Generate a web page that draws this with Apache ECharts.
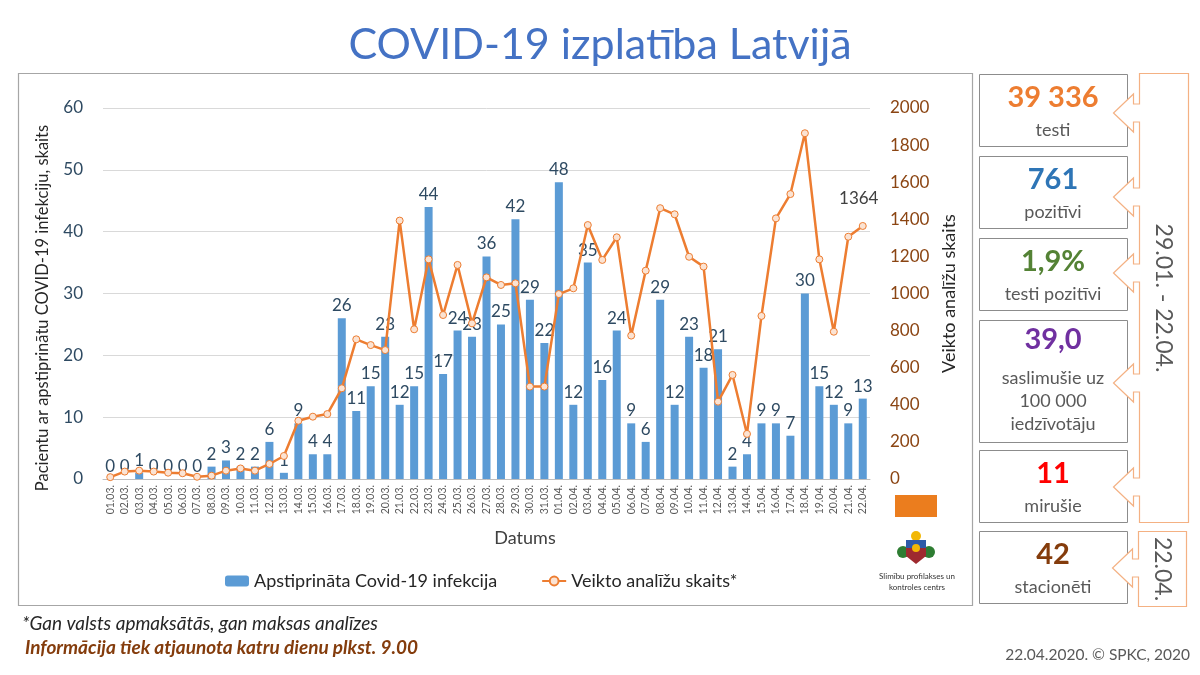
<!DOCTYPE html>
<html>
<head>
<meta charset="utf-8">
<title>COVID-19 izplatība Latvijā</title>
<script src="https://cdn.jsdelivr.net/npm/echarts@6/dist/echarts.min.js"></script>
<style>
  html, body { margin: 0; padding: 0; background: #fff; }
  #chart { width: 1200px; height: 675px; }
</style>
</head>
<body>
<div id="chart"></div>
<script>
// dienas 01.03. - 22.04.
var dates = ['01.03.','02.03.','03.03.','04.03.','05.03.','06.03.','07.03.','08.03.','09.03.','10.03.',
    '11.03.','12.03.','13.03.','14.03.','15.03.','16.03.','17.03.','18.03.','19.03.','20.03.',
    '21.03.','22.03.','23.03.','24.03.','25.03.','26.03.','27.03.','28.03.','29.03.','30.03.','31.03.',
    '01.04.','02.04.','03.04.','04.04.','05.04.','06.04.','07.04.','08.04.','09.04.','10.04.',
    '11.04.','12.04.','13.04.','14.04.','15.04.','16.04.','17.04.','18.04.','19.04.','20.04.',
    '21.04.','22.04.'];

// apstiprinātie gadījumi
var cases = [0,0,1,0,0,0,0,2,3,2,
    2,6,1,9,4,4,26,11,15,23,
    12,15,44,17,24,23,36,25,42,29,22,
    48,12,35,16,24,9,6,29,12,23,
    18,21,2,4,9,9,7,30,15,12,
    9,13];

// veikto analīžu skaits (nolasīts no līknes)
var tests = [10,40,45,40,34,31,12,18,45,57,
    45,81,124,314,336,350,489,753,722,695,
    1393,807,1184,884,1154,839,1087,1046,1055,498,498,
    997,1028,1369,1181,1303,773,1123,1460,1427,1198,
    1145,417,561,243,879,1405,1536,1864,1184,794,
    1306,1364];

var leftTicks = [0, 60, 10];
var rightTicks = [0, 2000, 200];

// kopsavilkuma kartītes
var cardValues = ['39 336', '761', '1,9%', '39,0', '11', '42'];
var cardLabels = [['testi'], ['pozitīvi'], ['testi pozitīvi'], ['saslimušie uz', '100 000', 'iedzīvotāju'], ['mirušie'], ['stacionēti']];
var cardColors = ['#ED7D31', '#2E75B6', '#548235', '#7030A0', '#FF0000', '#843C0C'];
var cardTops = [74, 156, 238, 320, 450, 531];
var cardBottoms = [146, 228, 310, 442, 522, 603];

var FONT = 'Lato, "Open Sans", sans-serif';

var CHART = {
    init: function(){
        var _this = this;
        var myChart = echarts.init(document.getElementById('chart'));
        myChart.setOption(_this.build_option());
    },
    card_graphics: function(){
        var items = [];
        for (var i = 0; i < cardValues.length; i++){
            var top = cardTops[i], bottom = cardBottoms[i];
            var h = bottom - top;
            var lines = cardLabels[i];
            items.push({
                type: 'rect', shape: { x: 979.5, y: top + 0.5, width: 148, height: h },
                style: { fill: '#fff', stroke: '#8C8C8C', lineWidth: 1 }
            });
            var valueY = lines.length > 1 ? top + 20 : top + 24;
            items.push({
                type: 'text', x: 1053, y: valueY,
                style: { text: cardValues[i], font: 'bold 29px ' + FONT, fill: cardColors[i], align: 'center', verticalAlign: 'middle' }
            });
            for (var j = 0; j < lines.length; j++){
                items.push({
                    type: 'text', x: 1053, y: (lines.length > 1 ? top + 58 + j * 23 : top + 56),
                    style: { text: lines[j], font: '18px ' + FONT, fill: '#595959', align: 'center', verticalAlign: 'middle' }
                });
            }
        }
        return items;
    },
    bracket_points: function(x0, x1, y0, y1, arrows){
        // taisnstūris ar bultām pa kreisi
        var pts = [[x1, y0], [x0, y0]];
        for (var i = 0; i < arrows.length; i++){
            var c = arrows[i];
            pts.push([x0, c - 9], [x0 - 6, c - 9], [x0 - 6, c - 19], [x0 - 26, c],
                [x0 - 6, c + 19], [x0 - 6, c + 9], [x0, c + 9]);
        }
        pts.push([x0, y1], [x1, y1]);
        return pts;
    },
    logo_graphics: function(){
        return [
            { type: 'rect', shape: { x: 895, y: 495, width: 42, height: 22 }, style: { fill: '#EB7D1E' } },
            // ģerbonis (vienkāršots)
            { type: 'circle', shape: { cx: 916, cy: 536, r: 5 }, style: { fill: '#F2B705' } },
            { type: 'circle', shape: { cx: 903, cy: 552, r: 6 }, style: { fill: '#2E7D32' } },
            { type: 'circle', shape: { cx: 929, cy: 552, r: 6 }, style: { fill: '#2E7D32' } },
            { type: 'polygon', shape: { points: [[906, 540], [926, 540], [926, 556], [916, 564], [906, 556]] }, style: { fill: '#9E2A2F' } },
            { type: 'rect', shape: { x: 906, y: 540, width: 20, height: 8 }, style: { fill: '#2E5AA8' } },
            { type: 'circle', shape: { cx: 916, cy: 548, r: 4 }, style: { fill: '#F2B705' } },
            { type: 'text', x: 917, y: 576, style: { text: 'Slimību profilakses un', font: '8px ' + FONT, fill: '#333', align: 'center', verticalAlign: 'middle' } },
            { type: 'text', x: 917, y: 587, style: { text: 'kontroles centrs', font: '8px ' + FONT, fill: '#333', align: 'center', verticalAlign: 'middle' } }
        ];
    },
    build_option: function(){
        var _this = this;
        var lastIdx = tests.length - 1;
        var testData = [];
        $each(tests, function(i, v){
            if (i == lastIdx){
                testData.push({ value: v, label: { show: true, position: 'top', offset: [-4, -10], formatter: '{c}', fontSize: 17, color: '#404040', fontFamily: FONT } });
            } else {
                testData.push(v);
            }
        });

        var graphics = [
            { type: 'rect', shape: { x: 18.5, y: 73.5, width: 954, height: 532 }, style: { fill: 'none', stroke: '#A6A6A6', lineWidth: 1.2 }, z: -1 },
            { type: 'text', x: 600, y: 45, style: { text: 'COVID-19 izplatība Latvijā', font: '43px ' + FONT, fill: '#4472C4', align: 'center', verticalAlign: 'middle' } },
            { type: 'text', x: 43, y: 308, rotation: Math.PI / 2, style: { text: 'Pacientu ar apstiprinātu COVID-19 infekciju, skaits', font: '16.5px ' + FONT, fill: '#262626', align: 'center', verticalAlign: 'middle' } },
            { type: 'text', x: 525, y: 538, style: { text: 'Datums', font: '18px ' + FONT, fill: '#404040', align: 'center', verticalAlign: 'middle' } },
            { type: 'text', x: 22, y: 624, style: { text: '*Gan valsts apmaksātās, gan maksas analīzes', font: 'italic 19px ' + FONT, fill: '#262626', verticalAlign: 'middle' } },
            { type: 'text', x: 25, y: 648, style: { text: 'Informācija tiek atjaunota katru dienu plkst. 9.00', font: 'italic bold 19px ' + FONT, fill: '#843C0C', verticalAlign: 'middle' } },
            { type: 'text', x: 1190, y: 655, style: { text: '22.04.2020. © SPKC, 2020', font: '15.5px ' + FONT, fill: '#595959', align: 'right', verticalAlign: 'middle' } }
        ].concat(_this.card_graphics(), [
            { type: 'polygon', shape: { points: _this.bracket_points(1139.5, 1188.5, 73.5, 522.5, [113, 197, 273, 383, 487]) }, style: { fill: '#fff', stroke: '#F4B183', lineWidth: 1.2 } },
            { type: 'polygon', shape: { points: _this.bracket_points(1138.5, 1186.5, 531.5, 606.5, [568]) }, style: { fill: '#fff', stroke: '#F4B183', lineWidth: 1.2 } },
            { type: 'text', x: 1163, y: 298, rotation: -Math.PI / 2, style: { text: '29.01. - 22.04.', font: '23px ' + FONT, fill: '#595959', align: 'center', verticalAlign: 'middle' } },
            { type: 'text', x: 1162, y: 569, rotation: -Math.PI / 2, style: { text: '22.04.', font: '23px ' + FONT, fill: '#595959', align: 'center', verticalAlign: 'middle' } }
        ], _this.logo_graphics());

        return {
            animation: false,
            backgroundColor: '#fff',
            textStyle: { fontFamily: FONT },
            grid: { left: 103, right: 330, top: 108, bottom: 196 },
            legend: {
                left: 220, top: 567,
                itemGap: 44, itemWidth: 24, itemHeight: 11,
                textStyle: { fontSize: 18, color: '#262626', fontFamily: FONT },
                data: ['Apstiprināta Covid-19 infekcija', 'Veikto analīžu skaits*']
            },
            graphic: graphics,
            xAxis: {
                type: 'category',
                data: dates,
                axisLine: { lineStyle: { color: '#BFBFBF' } },
                axisTick: { show: false },
                axisLabel: { interval: 0, rotate: 90, fontSize: 10.5, color: '#595959', margin: 6 }
            },
            yAxis: [
                {
                    type: 'value',
                    min: leftTicks[0], max: leftTicks[1], interval: leftTicks[2],
                    axisLabel: { fontSize: 17, color: '#2E4A62', margin: 20 },
                    splitLine: { lineStyle: { color: '#D9D9D9' } }
                },
                {
                    type: 'value',
                    min: rightTicks[0], max: rightTicks[1], interval: rightTicks[2],
                    name: 'Veikto analīžu skaits',
                    nameLocation: 'middle', nameRotate: 90, nameGap: 66,
                    nameTextStyle: { fontSize: 18, color: '#262626' },
                    axisLabel: { fontSize: 17, color: '#8B4513', margin: 20, formatter: function(v){ return String(v); } },
                    splitLine: { show: false }
                }
            ],
            series: [
                {
                    name: 'Apstiprināta Covid-19 infekcija',
                    type: 'bar',
                    yAxisIndex: 0,
                    barWidth: 8,
                    itemStyle: { color: '#5B9BD5' },
                    label: { show: true, position: 'top', distance: 4, fontSize: 17, color: '#2E4A62', fontFamily: FONT },
                    data: cases
                },
                {
                    name: 'Veikto analīžu skaits*',
                    type: 'line',
                    yAxisIndex: 1,
                    symbol: 'circle',
                    symbolSize: 7,
                    lineStyle: { color: '#ED7D31', width: 2.5 },
                    itemStyle: { color: '#FBE3D3', borderColor: '#ED7D31', borderWidth: 1 },
                    data: testData,
                    z: 3
                }
            ]
        };
    }
};

function $each(arr, fn){
    for (var i = 0; i < arr.length; i++) fn(i, arr[i]);
}

CHART.init();
</script>
</body>
</html>
